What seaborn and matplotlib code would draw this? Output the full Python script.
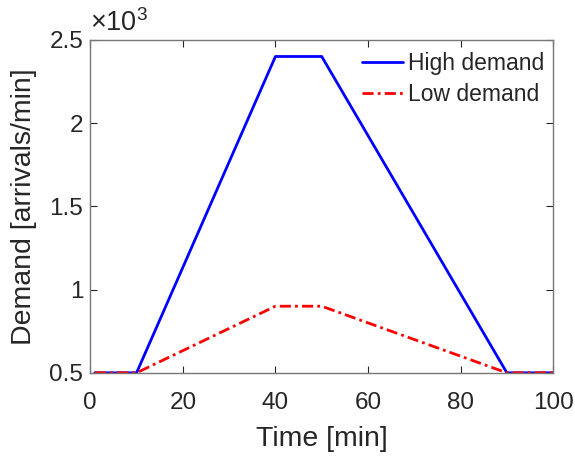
import numpy as np
import pandas as pd
import matplotlib
matplotlib.use("Agg")
import matplotlib.pyplot as plt
import seaborn as sns
from matplotlib.ticker import FuncFormatter

time_min = [1, 10, 40, 50, 90, 100]
high_demand = [500, 500, 2400, 2400, 500, 500]
low_demand = [500, 500, 900, 900, 500, 500]
series_names = ["High demand", "Low demand"]
x_ticks = [0, 20, 40, 60, 80, 100]
y_ticks = [500, 1000, 1500, 2000, 2500]

sns.set_style("white")
plt.rcParams['font.family'] = ['Liberation Sans', 'DejaVu Sans']
plt.rcParams['mathtext.fontset'] = 'custom'
plt.rcParams['mathtext.rm'] = 'Liberation Sans'

df = pd.DataFrame({
    "Time": time_min * 2,
    "Demand": high_demand + low_demand,
    "Series": [series_names[0]] * len(time_min) + [series_names[1]] * len(time_min),
})

fig = plt.figure(figsize=(5.75, 4.58), dpi=100)
ax = fig.add_axes([0.157, 0.186, 0.805, 0.727])

sns.lineplot(data=df, x="Time", y="Demand", hue="Series", style="Series",
             palette={series_names[0]: "#0000ff", series_names[1]: "#ff0000"},
             dashes={series_names[0]: "", series_names[1]: (4, 1.5, 1, 1.5)},
             linewidth=2, ax=ax, sort=False)

ax.set_xlim(0, 100)
ax.set_ylim(500, 2500)
ax.set_xticks(x_ticks)
ax.set_yticks(y_ticks)
ax.yaxis.set_major_formatter(FuncFormatter(lambda v, p: f"{v/1000:g}"))

ax.tick_params(direction='in', top=True, right=True, bottom=True, left=True,
               labelsize=17.5, colors='#262626', length=5, width=0.8, pad=5)
ax.tick_params(axis='x', pad=14)
for s in ax.spines.values():
    s.set_color('#777777')
    s.set_linewidth(1)

ax.set_xlabel("Time [min]", fontsize=20.5, color='#262626')
ax.set_ylabel("Demand [arrivals/min]", fontsize=20.5, color='#262626')
ax.xaxis.set_label_coords(0.5, -0.16)
ax.yaxis.set_label_coords(-0.115, 0.5)

ax.text(0.0, 1.008, r"$\mathregular{\times10^{3}}$", transform=ax.transAxes,
        ha='left', va='bottom', fontsize=19.5, color='#262626')

leg = ax.legend(loc='upper right', bbox_to_anchor=(1.0, 0.992), frameon=False,
                fontsize=16.5, handlelength=1.8, handletextpad=0.2,
                borderaxespad=0.1, labelspacing=0.35, borderpad=0.3)
leg.set_title(None)

fig.savefig("out.png", dpi=100)
